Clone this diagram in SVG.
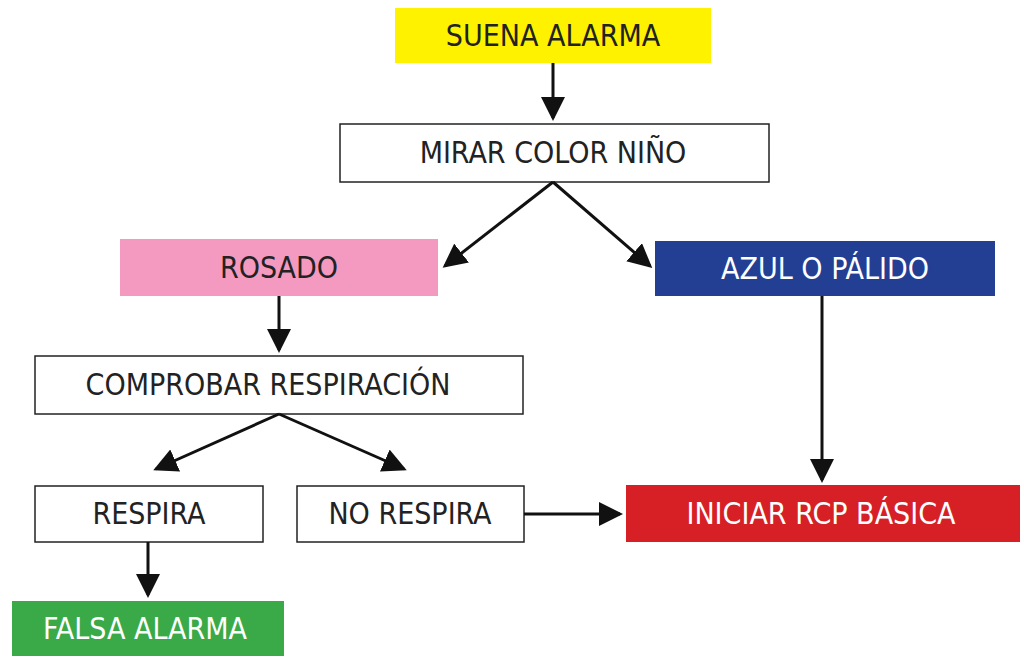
<svg xmlns="http://www.w3.org/2000/svg" width="1024" height="672" viewBox="0 0 1024 672">
<style>
.b{stroke:#222;stroke-width:1.5}
.t{font-family:"DejaVu Sans Condensed","DejaVu Sans",sans-serif;font-size:30px;text-anchor:middle;fill:#222}
.w{fill:#fff}
.c{stroke:#111;stroke-width:3;fill:none;marker-end:url(#a)}
</style>
<defs><marker id="a" markerWidth="8" markerHeight="8" refX="7" refY="4" orient="auto" markerUnits="strokeWidth"><path d="M0,0L8,4L0,8z" fill="#111"/></marker></defs>
<rect width="1024" height="672" fill="#fff"/>
<g id="n1"><rect x="395" y="8" width="316" height="55" fill="#fff200"/><text class="t" x="553" y="46">SUENA ALARMA</text></g>
<g id="n2"><rect class="b" x="340" y="124" width="429" height="58" fill="#fff"/><text class="t" x="553" y="163">MIRAR COLOR  NIÑO</text></g>
<g id="n3"><rect x="120" y="239" width="318" height="57" fill="#f49ac1"/><text class="t" x="279" y="278">ROSADO</text></g>
<g id="n4"><rect x="655" y="241" width="340" height="55" fill="#233f94"/><text class="t w" x="825" y="279">AZUL O PÁLIDO</text></g>
<g id="n5"><rect class="b" x="35" y="356" width="488" height="58" fill="#fff"/><text class="t" x="268" y="395">COMPROBAR RESPIRACIÓN</text></g>
<g id="n6"><rect class="b" x="35" y="486" width="228" height="56" fill="#fff"/><text class="t" x="149" y="524">RESPIRA</text></g>
<g id="n7"><rect class="b" x="297" y="486" width="227" height="56" fill="#fff"/><text class="t" x="410" y="524">NO RESPIRA</text></g>
<g id="n8"><rect x="626" y="485" width="394" height="57" fill="#d71f26"/><text class="t w" x="821" y="524">INICIAR RCP BÁSICA</text></g>
<g id="n9"><rect x="12" y="601" width="272" height="55" fill="#3aaa48"/><text class="t w" x="145" y="639">FALSA ALARMA</text></g>
<g id="edges">
<path class="c" d="M553,63V118"/>
<path class="c" d="M553,182L445,266"/>
<path class="c" d="M553,182L650,266"/>
<path class="c" d="M279,296V350"/>
<path class="c" d="M279,414L156,469"/>
<path class="c" d="M279,414L404,469"/>
<path class="c" d="M822,296V480"/>
<path class="c" d="M524,514H620"/>
<path class="c" d="M148,542V595"/>
</g>
</svg>
